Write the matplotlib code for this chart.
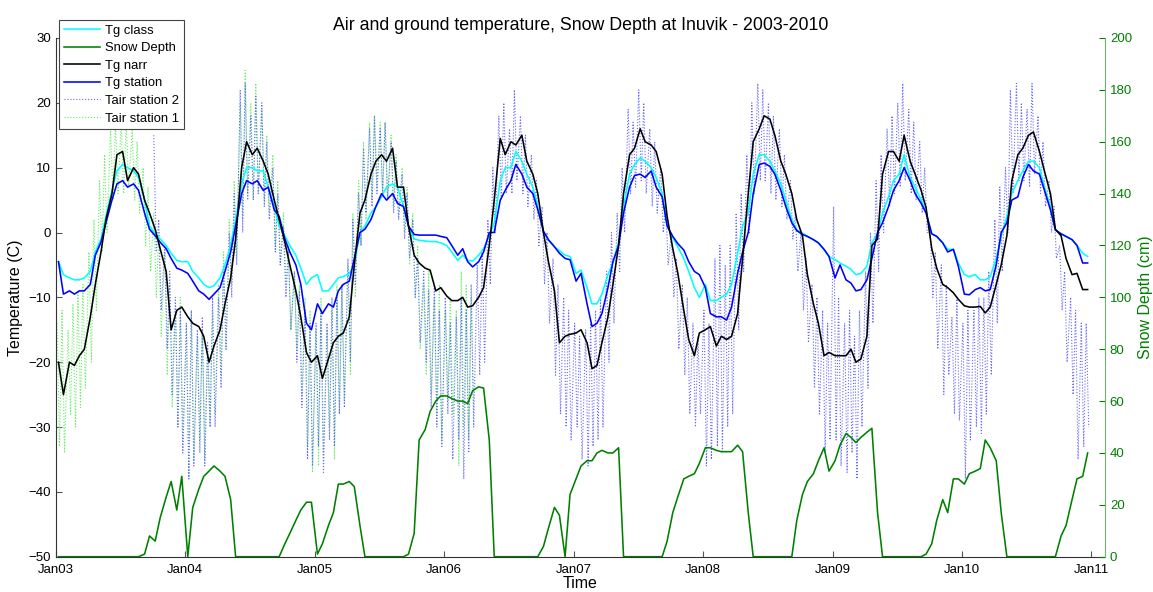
import matplotlib
matplotlib.use("Agg")
import matplotlib.pyplot as plt
import pandas as pd
import numpy as np
from datetime import datetime

plt.rcParams['font.family'] = ['Liberation Sans', 'DejaVu Sans']

# half-monthly values, Jan 2003 .. Dec 2010 (24 per year)
tg_class = [
    -4.5, -6.5, -7.0, -7.3, -7.3, -7.0, -6.0, -3.0, -1.0, 2.5, 6.5, 9.5, 10.5, 10.0, 9.5, 8.5, 5.0, 1.0, -0.2, -1.0, -2.0, -3.2, -4.3, -4.5,
    -4.5, -6, -7, -8, -8.5, -8.2, -7, -5, -2, 2, 7.5, 10, 10, 9.5, 9.5, 7, 4, 1, -0.5, -2, -3.5, -5.5, -8, -7,
    -6.5, -9, -9, -8, -7, -6.8, -6.3, -5, 0, 1, 3, 4, 5.5, 7, 7.5, 7, 4, 1, -1, -1.2, -1.3, -1.4, -1.4, -1.6,
    -2, -3, -4.3, -3.5, -4.3, -4.4, -3.5, -2.5, -0.5, 1.5, 8, 10, 10, 12.5, 11, 9, 7, 4, 0, -1.2, -2.2, -2.8, -3.5, -3.7,
    -6.3, -5.8, -8.5, -11, -11, -9.5, -6.5, -4.7, -1.5, 4, 9, 10.5, 11.5, 11, 10, 8.5, 6, 1, -0.8, -2.2, -4, -6, -8.5, -10,
    -8, -10.5, -10.5, -10, -9.5, -8, -3.2, 1, 3, 9, 12, 12, 11, 9.5, 7.5, 5, 2, 0.4, -0.1, -0.6, -1.1, -1.6, -2.6, -3.7,
    -4.2, -4.7, -5.2, -5.7, -6.5, -6.3, -5.2, -1.6, -0.1, 3, 5.5, 8, 9, 12, 8.5, 7, 5, 3.2, -0.2, -0.6, -1.6, -2.6, -2.6, -4.7,
    -6.5, -6.8, -6.5, -7.3, -7.3, -6.8, -4, -0.6, 2.5, 6, 8, 9.5, 11, 11, 10, 7, 4, 0.4, -0.2, -0.6, -1.1, -2, -3.2, -3.7,
]
tg_station = [
    -4.5, -9.5, -9, -9.5, -9, -9, -8, -3.5, -1.5, 1.5, 5, 7.5, 8, 7, 7.5, 6.5, 3, 0.5, -0.5, -1.5, -2.5, -4, -5.5, -5.8,
    -6.3, -7.5, -9, -9.5, -10.3, -9.5, -8.5, -6, -3, 1, 6, 8, 7.5, 8, 6.5, 7, 3.5, 2.5, -1, -3, -5, -8, -14, -15,
    -11, -12.5, -11, -11.5, -9, -8, -7.5, -4, 0, 0.5, 2, 4, 6, 5, 6, 4.5, 4, 1, -0.3, -0.4, -0.4, -0.4, -0.4, -0.6,
    -0.8, -2, -3.5, -2.5, -4.5, -5.3, -4.5, -3, 0, 0, 5, 6.5, 8, 10.5, 9, 7, 6, 3.5, 0.2, -1.1, -2.2, -3.2, -4, -4.2,
    -7.5, -6.3, -11, -14.5, -14, -12.5, -8.5, -4.5, -2, 3, 7, 8.8, 9, 8.5, 9.5, 7, 5.5, 1, -0.6, -1.7, -2.7, -4.5, -6, -6.5,
    -8.5, -12.5, -13, -13, -13.5, -11.5, -6.3, -3, 0, 6, 10.5, 10.7, 10.2, 9, 6.5, 4, 1.5, 0.3, -0.3, -0.6, -1.1, -1.6, -2.6, -3.7,
    -7, -5, -7.3, -7.8, -9, -8.8, -7.3, -4, 0, 1.5, 4, 6.5, 8, 10, 8, 6, 4.5, 3, -0.2, -0.6, -1.6, -3, -2.6, -5.2,
    -9.5, -9.6, -8.8, -8.5, -9, -8.8, -5, 0, 1.5, 5, 5.5, 8.5, 10.5, 9.5, 9, 6.5, 3.5, 0.4, -0.2, -0.6, -1.1, -2, -4.7, -4.7,
]
tg_narr = [
    -20, -25, -20, -20.5, -19, -18, -13, -8, -3, 2, 6, 12, 12.5, 8, 10, 9, 5, 3, 0.5, -2.5, -6, -15, -12, -11.5,
    -13, -14, -14.5, -16, -20, -17.5, -15, -11, -7, -1, 10, 14, 12, 13, 11, 9, 5, 2, -1.5, -5, -9, -13, -18.5, -20,
    -19, -22.5, -19.5, -17, -16, -15.5, -13, -5, 3, 5, 9, 11, 12, 11, 13, 7, 7, 1, -3.5, -4.7, -5.5, -5.8, -9, -8.5,
    -9.8, -10.5, -10.5, -10, -11.5, -11.3, -10, -8.5, -2, 5, 14.5, 12, 14, 13.5, 15, 11, 9, 6, 0, -4.5, -9, -17, -16, -15.7,
    -15.5, -15, -17, -21, -20.5, -17, -13, -8, -2, 6, 12, 13, 16, 14, 13.5, 12.5, 9, 2.5, -2.5, -6.2, -12, -16.5, -19, -15.5,
    -15, -14.5, -17.5, -16, -16.5, -16, -12.5, -4, 6, 14, 16, 18, 17.5, 15, 11, 9, 6, 2, -0.5, -6.5, -11, -14, -19, -18.5,
    -19, -19, -19, -18, -20, -19.5, -16, -2, -1, 9, 12.5, 12.5, 11, 15, 11, 9, 6.5, 3.8, -2.5, -5.5, -8, -8.5, -9.3, -10.3,
    -11.3, -11.5, -11.5, -11.4, -12.4, -11.5, -8, -5, -0.5, 8, 12, 13, 15, 15.5, 12.5, 9.5, 6, 0.5, -0.5, -4, -6.5, -6.3, -8.8, -8.8,
]
snow_depth = [
    0, 0, 0, 0, 0, 0, 0, 0, 0, 0, 0, 0, 0, 0, 0, 0, 1, 8, 6, 15, 23, 29, 18, 31,
    0, 19, 26, 31, 33, 35, 33, 31, 22, 0, 0, 0, 0, 0, 0, 0, 0, 0, 5, 9, 14, 18, 21, 21,
    1, 5, 12, 17, 28, 28, 29, 27, 12, 0, 0, 0, 0, 0, 0, 0, 0, 1, 9, 45, 49, 56, 60, 62,
    62, 61, 60, 60, 59, 64, 65.5, 65, 45, 0, 0, 0, 0, 0, 0, 0, 0, 0, 4, 11, 19, 16, 0, 24,
    30, 35, 37, 37, 40, 41, 40, 40, 42, 0, 0, 0, 0, 0, 0, 0, 0, 6, 17, 23, 30, 31, 32, 36,
    42, 42, 41, 40.5, 40.5, 40.5, 43, 40.5, 17, 0, 0, 0, 0, 0, 0, 0, 0, 14, 24, 29, 32, 37, 42, 33,
    37, 43, 47.5, 46, 44, 46, 48, 49.5, 17, 0, 0, 0, 0, 0, 0, 0, 0, 1, 5, 14, 22, 17, 30, 30,
    28, 32, 33, 34, 45, 42, 37, 17, 0, 0, 0, 0, 0, 0, 0, 0, 0, 0, 8, 12, 22, 30, 31, 40,
]

# air temperature: highs and lows of each half month
air1_hi = [  # Jan 2003 .. Apr 2006
    -14, -12, -15, -11, -9, -8, -3, 2, 8, 12, 16, 17, 17, 17, 16, 14, 10, 7, 3, 0, -3, -8, -12, -10,
    -14, -12, -16, -15, -18, -12, -8, -3, 2, 8, 20, 25, 20, 23, 19, 15, 12, 8, 3, -2, -6, -8, -10, -12,
    -15, -10, -15, -12, -8, -8, -5, 3, 8, 14, 17, 18, 17, 17, 15, 12, 10, 7, 3, -2, -8, -6, -10, -8,
    -12, -10, -12, -6, -8, -10,
]
air1_lo = [
    -33, -34, -28, -30, -27, -24, -20, -12, -3, 0, 5, 6, 6, 7, 5, 3, -2, -6, -10, -16, -22, -27, -30, -32,
    -38, -35, -32, -35, -30, -28, -22, -18, -8, -4, 2, 6, 5, 6, 5, 3, -2, -5, -8, -15, -18, -25, -33, -37,
    -36, -34, -30, -35, -28, -26, -22, -10, -2, 2, 5, 7, 6, 5, 4, 2, 0, -5, -10, -18, -22, -25, -28, -32,
    -26, -28, -36, -30, -32, -28,
]
air2_hi = [  # Oct 2003 .. Dec 2010
    15, 2, -2, -6, -10, -12,
    -14, -12, -15, -13, -17, -10, -10, -5, 0, 6, 22, 23, 18, 21, 20, 14, 10, 6, 1, -3, -6, -9, -12, -14,
    -14, -12, -14, -10, -10, -8, -4, 2, 6, 13, 16, 18, 16, 17, 14, 11, 9, 6, 2, -4, -6, -9, -8, -12,
    -10, -14, -13, -10, -12, -8, -5, -3, 2, 10, 18, 20, 16, 22, 18, 15, 12, 8, 4, 0, -4, -8, -10, -12,
    -14, -16, -15, -14, -12, -10, -6, 0, 3, 10, 19, 17, 22, 20, 16, 14, 10, 4, 0, -4, -8, -10, -14, -16,
    -12, -14, -4, -2, -5, -2, 3, 6, 12, 20, 23, 22, 20, 18, 16, 12, 8, 3, 0, -4, -8, -10, -12, -14,
    4, -10, -14, -12, -16, -12, -6, 0, 8, 12, 16, 18, 20, 23, 19, 17, 14, 10, 0, -3, -5, -8, -13, -10,
    -14, -12, -12, -10, -10, -6, 2, 7, 10, 22, 23, 20, 19, 23, 18, 14, 8, 4, -2, -6, -10, -12, -14, -14,
]
air2_lo = [
    -3, -12, -18, -25, -30, -34,
    -38, -36, -34, -36, -30, -30, -24, -18, -10, -5, 0, 5, 5, 6, 4, 2, -3, -5, -10, -15, -20, -27, -35, -36,
    -33, -37, -32, -33, -28, -27, -20, -8, -2, 3, 4, 6, 6, 5, 3, 2, -1, -4, -10, -17, -20, -27, -30, -33,
    -28, -35, -32, -38, -34, -30, -22, -20, -8, 0, 5, 6, 6, 8, 6, 4, 2, -2, -8, -14, -22, -28, -30, -32,
    -30, -35, -36, -33, -32, -30, -20, -14, -6, 0, 6, 7, 8, 6, 4, 3, 0, -5, -10, -18, -22, -28, -30, -28,
    -36, -35, -33, -34, -30, -28, -15, -6, 0, 6, 8, 8, 6, 5, 4, 2, -1, -6, -12, -17, -24, -28, -34, -32,
    -32, -36, -37, -34, -38, -30, -24, -14, -6, 0, 4, 6, 7, 8, 6, 5, 3, 0, -10, -18, -25, -22, -28, -29,
    -38, -32, -30, -31, -28, -22, -14, -6, 0, 6, 8, 8, 7, 9, 6, 4, 0, -4, -12, -20, -25, -35, -33, -30,
]
air2_start = 18  # first half month with station 2 data

half = pd.date_range('2003-01-01', periods=len(tg_class), freq='SMS')
t_mid = half + pd.Timedelta(days=7)


def zigzag(start, hi, lo):
    d = half[start:start + len(hi)]
    tt = np.empty(2 * len(hi), dtype='datetime64[ns]')
    vv = np.empty(2 * len(hi))
    tt[0::2] = (d + pd.Timedelta(days=3)).values
    tt[1::2] = (d + pd.Timedelta(days=10)).values
    vv[0::2] = hi
    vv[1::2] = lo
    return tt, vv


fig = plt.figure(figsize=(11.53, 5.92), dpi=100)
ax = fig.add_axes([56 / 1153, 1 - 556.7 / 592, 1049 / 1153, 518.7 / 592])
ax2 = ax.twinx()

t1, v1 = zigzag(0, air1_hi, air1_lo)
t2, v2 = zigzag(air2_start, air2_hi, air2_lo)
l_a1, = ax.plot(t1, v1, ':', color='#66ee66', lw=0.8, label='Tair station 1')
l_a2, = ax.plot(t2, v2, ':', color='#6666ff', lw=0.8, label='Tair station 2')
l_cl, = ax.plot(t_mid, tg_class, color='#00ffff', lw=1.15, label='Tg class')
l_st, = ax.plot(t_mid, tg_station, color='#0000ff', lw=1.15, label='Tg station')
l_na, = ax.plot(t_mid, tg_narr, color='black', lw=1.15, label='Tg narr')
l_sn, = ax2.plot(t_mid, snow_depth, color='#008000', lw=1.15, label='Snow Depth')

ax.set_xlim(datetime(2003, 1, 1), datetime(2011, 2, 9))
ax.set_ylim(-50, 30)
ax2.set_ylim(0, 200)
ax.set_yticks(range(-50, 31, 10))
ax2.set_yticks(range(0, 201, 20))
years = [datetime(y, 1, 1) for y in range(2003, 2012)]
ax.set_xticks(years)
ax.set_xticklabels([d.strftime('%b%y') for d in years])

for a in (ax, ax2):
    a.spines['top'].set_visible(False)
ax.spines['right'].set_visible(False)
ax2.spines['left'].set_visible(False)
ax2.spines['bottom'].set_visible(False)
ax.spines['left'].set_color('#333333')
ax.spines['bottom'].set_color('#333333')
ax2.spines['right'].set_color('#70b070')
ax.tick_params(direction='in', length=4, labelsize=9.5, color='#555555')
ax.tick_params(axis='x', pad=5)
ax2.tick_params(direction='in', length=4, labelsize=9.5, color='#008000', labelcolor='#008000')

ax.set_xlabel('Time', fontsize=11.5, labelpad=0)
ax.set_ylabel('Temperature (C)', fontsize=11.5, labelpad=4)
ax2.set_ylabel('Snow Depth (cm)', fontsize=11.5, color='#008000', labelpad=4)
ax.set_title('Air and ground temperature, Snow Depth at Inuvik - 2003-2010', fontsize=12.8, pad=6)

leg = ax2.legend([l_cl, l_sn, l_na, l_st, l_a2, l_a1],
                 ['Tg class', 'Snow Depth', 'Tg narr', 'Tg station', 'Tair station 2', 'Tair station 1'],
                 loc='upper left', bbox_to_anchor=(0.003, 1.035), borderaxespad=0,
                 fontsize=9.4, handlelength=2.8, labelspacing=0.42, fancybox=False,
                 framealpha=1, edgecolor='#444444', borderpad=0.35, handletextpad=0.4)
leg.get_frame().set_linewidth(0.8)

fig.savefig('out.png', dpi=100)
